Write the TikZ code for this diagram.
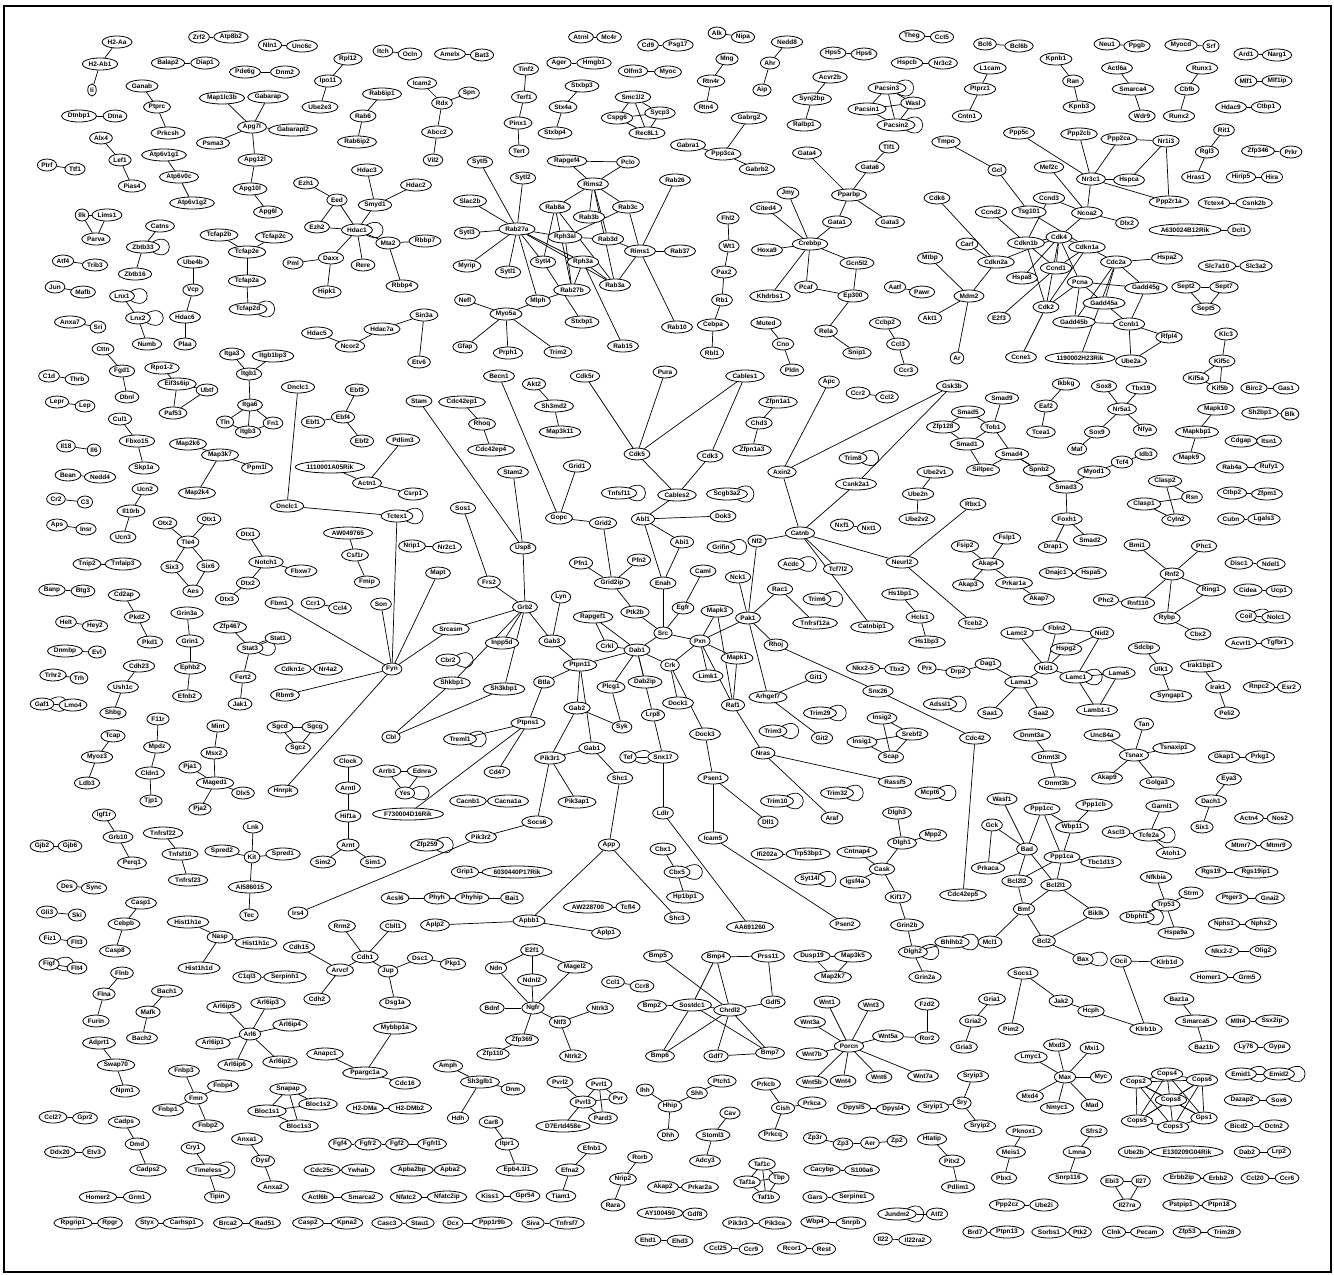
\documentclass[tikz,border=0pt]{standalone}
\usepackage{fontspec}
\setsansfont{Liberation Sans}
\usetikzlibrary{shapes.geometric,backgrounds}
\tikzset{
  gene/.style={ellipse,draw=black,fill=white,line width=0.8pt,inner xsep=1.2pt,inner ysep=0.4pt,minimum height=12pt,font=\sffamily\bfseries\fontsize{6.5}{7}\selectfont},
  link/.style={draw=black,line width=0.7pt}
}
\begin{document}
\begin{tikzpicture}[x=1pt,y=-1pt]
\path[use as bounding box] (0,0) rectangle (1334,1275);
\draw[line width=1.5pt] (4,6) rectangle (1331,1272);

% upper left
\foreach \g/\x/\y in {H2-Aa/117/42,H2-Ab1/100/64,Ii/92/90,Zrf2/199/37,Atp8b2/231/37,Nln1/270/45,Unc6c/302/46,Balap2/168/63,Diap1/205/63,Pde6g/245/72,Dnm2/285/72,Ganab/142/86,Ptprc/157/107,Prkcsh/168/133,Map1lc3b/222/98,Gabarap/268/97,Apg7l/252/127,Gabarapl2/293/130,Psma3/213/143,Apg12l/255/160,Apg10l/250/189,Apg6l/268/212,Dtnbp1/79/116,Dtna/115/116,Alx4/101/138,Lef1/120/160,Pias4/132/186,Ptrf/47/165,Ttf1/75/169,Atp6v1g1/164/155,Atp6v0c/179/177,Atp6v1g2/192/203,Ilk/82/215,Lims1/107/215,Parva/96/239,Catns/160/226,Zbtb33/143/247,Zbtb16/135/274,Atf4/63/261,Trib3/95/265,Jun/55/287,Mafb/83/292,Lnx1/122/296,Lnx2/138/318,Numb/147/344,Anxa7/70/322,Sri/98/327,Ube4b/193/262,Vcp/193/290,Hdac6/185/317,Plaa/185/344,Tcfap2b/219/235,Tcfap2c/274/237,Tcfap2e/247/252,Tcfap2a/247/281,Tcfap2d/248/309,Ezh1/306/183,Ezh2/317/227,Pml/293/263,Daxx/331/258,Hipk1/327/292,Hdac5/317/333,Cttn/103/349,Fgd1/122/371,Dbnl/127/397,C1d/49/376,Thrb/77/379,Lepr/57/402,Lep/85/406,Rpo1-2/162/368,Eif3s6ip/177/384,Ubtf/207/390,Paf53/173/413,Cul1/120/419,Itga3/232/354,Itgb1bp3/273/356,Itgb1/249/374,Itga6/250/405,Tln/225/422,Fn1/273/423,Itgb3/248/432,Ebf1/313/422,Ebf4/343/417,Ebf3/357/390,Ebf2/362/441}
  \node[gene] (\g) at (\x,\y) {\g};
\node[gene] (dnclcA) at (298,387) {Dnclc1};
\node[gene] (dnclcB) at (287,506) {Dnclc1};

% upper middle
\foreach \g/\x/\y in {Itch/383/51,Ocln/410/54,Amelx/450/54,Bat3/482/55,Rpl12/348/59,Ipo11/328/81,Ube2e3/320/107,Rab6ip1/382/94,Rab6/363/116,Rab6ip2/357/142,Icam2/422/83,Rdx/442/103,Spn/469/93,Abcc2/437/132,Vil2/433/160,Atrnl/581/37,Mc4r/609/37,Ager/559/63,Hmgb1/594/63,Tinf2/526/69,Terf1/524/97,Pinx1/518/123,Tert/519/151,Stxbp3/582/86,Stx4a/563/107,Stxbp4/555/133,Cd9/648/45,Psg17/678/45,Olfm3/633/71,Myoc/668/72,Smc1l2/633/97,Sycp3/660/113,Cspg6/617/118,Rec8L1/647/133,Hdac3/367/170,Smyd1/375/205,Hdac2/416/185,Eed/337/200,Hdac1/357/230,Mta2/388/243,Rbbp7/425/241,Rbbp4/402/286,Rere/363/265,Ncor2/350/346,Hdac7a/382/329,Sin3a/424/315,Etv6/419/362,Sytl5/480/162,Sytl2/523/178,Slac2b/470/201,Sytl3/467/233,Rab27a/517/229,Myrip/467/266,Sytl1/508/272,Sytl4/543/262,Mlph/538/301,Myo5a/506/314,Nefl/465/300,Gfap/465/347,Prph1/508/353,Trim2/558/352,Rab8a/555/207,Rims2/593/184,Rapgef4/567/161,Pclo/628/162,Rab3c/628/207,Rab3b/589/217,Rph3al/565/237,Rab3d/608/239,Rims1/640/251,Rab37/680/251,Rab26/675/180,Rph3a/583/262,Rab27b/572/290,Rab3a/615/285,Stxbp1/582/322,Rab15/623/346,Rab10/677/327}
  \node[gene] (\g) at (\x,\y) {\g};

% upper centre right
\foreach \g/\x/\y in {Alk/717/33,Nipa/743/37,Nedd8/787/42,Ahr/770/63,Aip/762/90,Mng/727/59,Rtn4r/711/81,Rtn4/706/107,Hps5/833/53,Hps6/864/54,Acvr2b/830/77,Synj2bp/812/99,Ralbp1/804/125,Theg/912/36,Cct5/942/37,Hspcb/907/63,Nr3c2/943/63,Bcl6/985/44,Bcl6b/1019/46,L1cam/990/68,Ptprz1/980/89,Cntn1/967/116,Pacsin3/887/88,Wasl/913/103,Pacsin1/867/109,Pacsin2/896/125,Gabrg2/749/118,Gabra1/688/145,Ppp3ca/723/154,Gabrb2/757/169,Gata4/807/153,Tlf1/889/147,Gata6/870/167,Pparbp/849/195,Gata1/837/222,Gata3/890/222,Jmy/788/193,Cited4/766/208,Crebbp/810/244,Hoxa9/767/250,Gcn5l2/857/263,Khdrbs1/770/296,Pcaf/806/287,Ep300/853/296,Rela/826/331,Snip1/857/353,Fhl2/728/218,Wt1/729/246,Pax2/724/272,Rb1/722/300,Cebpa/713/325,Rbl1/712/353,Muted/766/323,Cno/783/344,Pldn/792/370,Ccbp2/885/323,Ccl3/898/344,Ccr3/906/370,Aatf/895/287,Pawr/922/292,Tmpo/946/142,Gcl/997/170,Cdk6/937/198,Carf/967/244,Cdkn2a/996/262,Mtbp/930/258,Mdm2/969/296,Akt1/930/318,Ar/957/358,Apc/829/382,Ccr2/858/393,Ccl2/887/397,Gsk3b/952/386,Cables1/745/376,Pura/665/372,Zfpn1a1/778/402,Chd3/759/423,Zfpn1a3/752/450,Smad5/968/412,Zfp128/943/427,Tob1/993/427,Smad9/1002/398}
  \node[gene] (\g) at (\x,\y) {\g};

% upper right
\foreach \g/\x/\y in {Neu1/1107/44,Ppgb/1137/46,Myocd/1181/45,Srf/1211/46,Ard1/1246/54,Narg1/1277/55,Kpnb1/1056/59,Ran/1073/81,Kpnb3/1079/107,Actl6a/1117/68,Smarca4/1133/89,Wdr9/1142/116,Runx1/1202/68,Cbfb/1187/89,Runx2/1179/116,Mlf1/1246/81,Mlf1ip/1277/81,Hdac9/1231/107,Ctbp1/1266/107,Rit1/1224/130,Rgl3/1207/152,Hras1/1196/177,Zfp346/1258/151,Prkr/1291/152,Hirip5/1241/177,Hira/1272/177,Tctex4/1214/203,Csnk2b/1254/203,A630024B12Rik/1185/230,Dcl1/1239/230,Slc7a10/1217/266,Slc3a2/1256/266,Sept2/1186/287,Sept7/1224/287,Sept5/1206/309,Ppp5c/1019/133,Ppp2cb/1079/134,Ppp2ca/1119/139,Nr1i3/1166/141,Mef2c/1049/167,Nr3c1/1091/179,Hspca/1129/180,Ppp2r1a/1169/202,Ccnd3/1049/198,Tsg101/1029/212,Ccnd2/991/212,Ncoa2/1087/213,Dlx2/1127/223,Cdk4/1059/237,Cdkn1b/1026/243,Cdkn1a/1087/247,Ccnd1/1056/268,Hspa8/1022/278,Pcna/1080/282,Cdc2a/1116/262,Hspa2/1167/258,Gadd45g/1146/288,Gadd45a/1104/303,Cdk2/1046/307,Gadd45b/1074/322,Ccnb1/1129/324,E2f3/999/318,Rfpl4/1169/337,Ccne1/1021/357,1190002H23Rik/1080/358,Ube2a/1131/361,Klc3/1226/334,Kif5c/1222/361,Kif5a/1196/378,Kif5b/1220/388,Birc2/1254/388,Gas1/1286/388,Sh2bp1/1260/413,Blk/1290/414,Ikbkg/1066/384,Eaf2/1046/406,Tcea1/1041/432,Sox8/1104/386,Tbx19/1141/388,Nr5a1/1122/409,Sox9/1097/432,Nfya/1145/430,Maf/1077/449,Mapk10/1216/409,Mapkbp1/1197/432,Mapk9/1189/458}
  \node[gene] (\g) at (\x,\y) {\g};

% right middle
\foreach \g/\x/\y in {Cdgap/1241/441,Itsn1/1269/441,Rab4a/1232/467,Rufy1/1269/467,Ctbp2/1232/493,Zfpm1/1267/494,Cubn/1231/519,Lgals3/1264/519,Smad1/967/444,Siltpec/983/470,Smad4/1012/454,Spnb2/1039/470,Smad3/1066/487,Myod1/1094/472,Tcf4/1122/462,Idb3/1146/454,Foxh1/1067/519,Drap1/1053/547,Smad2/1090/540,Clasp2/1165/481,Rsn/1192/497,Clasp1/1144/504,Cyln2/1176/520,Bmi1/1137/545,Phc1/1204/546,Rnf2/1172/574,Ring1/1211/590,Phc2/1106/600,Rnf110/1138/603,Rybp/1167/618,Cbx2/1198/634,Disc1/1239/563,Ndel1/1271/564,Cidea/1248/590,Ucp1/1279/591,Coil/1246/616,Nolc1/1276/617,Acvrl1/1241/643,Tgfbr1/1277/643,Fslp1/1007/538,Fsip2/965/546,Akap4/988/564,Akap3/968/585,Prkar1a/1014/583,Akap7/1039/599,Dnajc1/1056/573,Hspa5/1091/573,Lamc2/1017/633,Fbln2/1057/628,Nid2/1102/633,Hspg2/1066/649,Nid1/1046/668,Lamc1/1076/677,Lama5/1119/673,Lama1/1021/682,Lamb1-1/1097/710,Saa1/990/713,Saa2/1041/713,Sdcbp/1144/648,Ulk1/1161/669,Syngap1/1171/696,Irak1bp1/1201/666,Irak1/1218/687,Peli2/1227/713,Rnpc2/1259/687,Esr2/1289/687,Dnmt3a/1032/735,Dnmt3l/1049/757,Dnmt3b/1057/783,Tan/1144/724,Unc84a/1102/735,Tsnaxip1/1174/748,Tsnax/1134/755,Akap9/1107/778,Golga3/1157/783,Gkap1/1224/757,Prkg1/1260/757,Eya3/1229/779,Dach1/1211/801,Six1/1202/827,Actn4/1249/818,Nos2/1280/818,Mtmr7/1241/845,Mtmr9/1276/845,Garnl1/1162/806,Ascl3/1116/832,Tcfe2a/1149/835,Atoh1/1171/853,Wasf1/1002/799,Ppp1cc/1042/809,Ppp1cb/1094/805,Wbp11/1072/827}
  \node[gene] (\g) at (\x,\y) {\g};

% lower right
\foreach \g/\x/\y in {Gck/992/825,Bad/1027/849,Ppp1ca/1062/857,Tbc1d13/1101/862,Bcl2l2/1017/881,Bcl2l1/1056/885,Prkaca/988/868,Bmf/1024/909,Biklk/1096/913,Mcl1/990/942,Bcl2/1044/941,Bax/1083/959,Ocil/1121/961,Klrb1d/1167/962,Klrb1b/1146/1029,Socs1/1023/973,Jak2/1061/1001,Hcph/1091/1011,Pim2/1011/1029,Cdc42ep5/963/895,Nfkbia/1156/877,Strm/1191/893,Trp53/1166/905,Dbphl1/1137/917,Hspa9a/1176/933,Rgs19/1211/872,Rgs19ip1/1256/872,Ptger3/1232/898,Gnai2/1270/898,Nphs1/1224/924,Nphs2/1261/924,Nkx2-2/1222/951,Olig2/1263/951,Homer1/1209/977,Grm5/1247/977,Baz1a/1179/999,Smarca5/1196/1021,Baz1b/1204/1047,Mllt4/1238/1021,Ssx2ip/1272/1021,Ly76/1246/1047,Gypa/1277/1047,Emid1/1241/1074,Emid2/1279/1074,Dazap2/1242/1100,Sox6/1279/1100,Bicd2/1239/1126,Dctn2/1274/1126,Dab2/1247/1152,Lrp2/1279/1152,Ccl20/1255/1178,Ccr6/1287/1178,Mxd3/1057/1045,Mxi1/1092/1048,Lmyc1/1031/1057,Max/1065/1077,Myc/1101/1077,Mxd4/1030/1096,Nmyc1/1057/1108,Mad/1092/1105,Cops2/1136/1082,Cops4/1167/1074,Cops6/1202/1080,Cops8/1171/1100,Cops5/1137/1121,Cops3/1173/1127,Gps1/1204/1118,Pknox1/1024/1131,Meis1/1011/1152,Pbx1/1004/1178,Sfrs2/1094/1131,Lmna/1077/1152,Snrp116/1068/1178,Ube2b/1134/1152,E130209G04Rik/1187/1152,Ebi3/1112/1181,Il27/1141/1181,Il27ra/1127/1205,Erbb2ip/1182/1178,Erbb2/1218/1178,Pstpip1/1181/1205,Ptpn18/1219/1205,Ppp2cz/1007/1205,Ube2i/1044/1205,Brd7/975/1232,Ptpn13/1007/1232,Sorbs1/1049/1232,Ptk2/1080/1232,Clnk/1114/1232,Pecam/1147/1232,Zfp53/1187/1232,Trim28/1224/1232}
  \node[gene] (\g) at (\x,\y) {\g};

% left middle
\foreach \g/\x/\y in {Fbxo15/137/441,Skp1a/144/468,Il18/66/446,Il6/94/450,Bean/68/475,Nedd4/100/477,Cr2/56/499,C3/85/502,Aps/57/525,Insr/86/529,Ucn2/145/489,Il10rb/131/511,Ucn3/123/537,Map2k6/188/444,Map3k7/220/455,Ppm1l/257/468,Map2k4/197/493,1110001A05Rik/330/467,Otx2/165/523,Otx1/209/519,Tle4/188/542,Six3/172/567,Six6/208/566,Aes/193/591,Dtx1/248/534,Notch1/266/562,Fbxw7/301/571,Dtx2/248/583,Dtx3/227/599,Tnip2/87/564,Tnfaip3/123/564,Banp/52/590,Btg3/83/591,Cd2ap/124/595,Pkd2/137/617,Pkd1/150/642,Helt/66/622,Hey2/95/626,Dnmbp/65/651,Evl/97/652,Trhr2/53/675,Trh/79/678,Gaf1/42/704,Lmo4/73/705,Cdh23/139/666,Ush1c/123/687,Shbg/113/713,Grin3a/187/613,Grin1/190/641,Ephb2/190/668,Efnb2/187/696,Zfp467/230/627,Stat1/278/638,Stat3/250/648,Fert2/243/677,Jak1/240/704,Fbm1/279/603,Ccr1/313/603,Ccl4/340/608,Cdkn1c/293/669,Nr4a2/328/669,Rbm9/285/695,Sgcd/280/727,Sgcg/315/727,Sgcz/298/748,Hnrpk/283/791,Mint/218/726,Msx2/214/753,Pja1/190/767,Maged1/215/783,Dlx5/243/793,Pja2/200/809,F11r/158/719,Mpdz/157/747,Cldn1/150/773,Tjp1/151/801,Tcap/113/736,Myoz3/97/757,Ldb3/87/783,Igf1r/104/815,Grb10/118/837,Perq1/132/863,Gjb2/42/846,Gjb6/70/846,Tnfrsf22/163/833,Tnfsf10/180/854,Tnfrsf23/188/880,Lnk/253/827,Kit/252/857,Spred2/222/851,Spred1/283/854,AI586015/250/887,Tec/249/915}
  \node[gene] (\g) at (\x,\y) {\g};

% centre
\foreach \g/\x/\y in {Rhoq/482/424,Cdc42ep1/462/402,Cdc42ep4/491/450,Akt2/534/384,Sh3md2/554/406,Map3k11/560/432,Becn1/499/376,Stam/419/401,Cdk5r/585/376,Cdk5/637/454,Stam2/513/472,Grid1/577/466,Gopc/559/518,Grid2/603/523,Usp8/523/548,Sos1/463/508,Frs2/489/582,Grb2/525/607,Lyn/561/597,Gab3/552/641,Srcasm/451/629,Inpp5d/502/643,Cbr2/448/660,Shkbp1/452/683,Sh3kbp1/504/689,Cbl/391/737,Nrip1/412/546,Nr2c1/447/547,AW049765/348/533,Csf1r/355/555,Fmip/367/582,Mapt/438/573,Son/381/604,Fyn/392/669,Tctex1/397/516,Actn1/367/483,Pdlim3/403/440,Csrp1/413/494,Ptpn11/580/665,Btla/544/682,Ptpns1/528/723,Treml1/460/739,Cd47/497/772,Gab2/577/708,Gab1/592/748,Pik3r1/550/758,Pik3ap1/577/802,Syk/622/727,Plcg1/611/687,Dab2ip/645/682,Dab1/637/650,Rapgef1/593/617,Crkl/607/646,Src/663/633,Ptk2b/635/612,Grid2ip/612/583,Pfn1/581/563,Pfn2/639/560,Abl1/643/519,Enah/663/583,Lrp8/653/715,Shc1/620/778,Tef/628/757,Snx17/663/757,Ldlr/663/813,App/609/845,Socs6/537/822,Pik3r2/481/837,Zfp259/427/845,Clock/348/761,Arntl/348/788,Hif1a/348/816,Arnt/348/845,Sim2/323/862,Sim1/373/862,Arrb1/387/771,Ednra/422/771,Yes/405/793,F730004D16Rik/408/814,Cacnb1/468/801,Cacna1a/508/801,Tnfsf11/619/493}
  \node[gene] (\g) at (\x,\y) {\g};

% centre right
\foreach \g/\x/\y in {Cdk3/710/456,Cables2/677/495,Scgb3a2/727/494,Dok3/723/516,Abi1/682/542,Grifin/721/547,Nf2/757/541,Catnb/800/533,Axin2/782/472,Csnk2a1/856/484,Trim8/853/458,Ube2v1/935/472,Ube2n/918/494,Ube2v2/917/519,Nxf1/842/525,Nxt1/869/528,Rbx1/973/504,Neurl2/902/562,Tceb2/973/623,Acdc/791/564,Tcf7l2/838/569,Caml/703/571,Nck1/738/577,Egfr/683/608,Mapk3/717/611,Pak1/748/618,Rac1/780/589,Trim6/817/599,Tnfrsf12a/815/623,Catnbip1/872/627,Hs1bp1/900/594,Hcls1/920/617,Hs1bp3/927/642,Pxn/700/641,Mapk1/737/658,Crk/670/665,Limk1/708/676,Rhoj/776/645,Raf1/733/705,Dock1/678/703,Arhgef7/768/697,Git1/816/677,Trim29/820/713,Trim3/773/731,Git2/822/738,Dock3/705/734,Nras/763/753,Rassf5/895/782,Psen1/713/778,Trim10/777/801,Trim32/837/793,Araf/832/818,Dll1/768/822,Icam5/713/838,Nkx2-5/863/668,Tbx2/897/669,Prx/927/668,Drp2/958/672,Dag1/988/664,Snx26/878/691,Adssl1/940/704,Cdc42/975/738,Insig2/882/718,Srebf2/912/734,Insig1/862/742,Scap/891/757,Mcpt6/930/793,Dlgh3/897/813,Mpp2/933/835,Dlgh1/902/843}
  \node[gene] (\g) at (\x,\y) {\g};

% lower left
\foreach \g/\x/\y in {Des/67/886,Sync/94/888,Gli3/47/912,Ski/77/915,Casp1/141/903,Cebpb/124/924,Casp8/115/951,Fiz1/50/938,Flt3/77/942,Figf/49/964,Flt4/77/968,Flnb/122/973,Flna/104/994,Furin/96/1021,Bach1/167/991,Mafk/148/1012,Bach2/142/1038,Adprt1/99/1043,Swap70/116/1065,Npm1/125/1091,Ccl27/53/1117,Gpr2/85/1118,Ddx20/60/1152,Etv3/94/1152,Cadps/124/1122,Dmd/137/1144,Cadps2/148/1170,Homer2/98/1197,Grm1/137/1197,Rpgrip1/73/1223,Rpgr/110/1223,Styx/147/1223,Carhsp1/183/1223,Brca2/228/1223,Rad51/265/1223,Casp2/308/1223,Kpna2/347/1223,Hist1h1e/188/922,Nasp/220/937,Hist1h1c/256/943,Hist1h1d/199/968,C1ql3/247/977,Serpinh1/285/977,Cdh15/299/947,Arvcf/340/970,Cdh2/317/999,Cdh1/365/957,Rrm2/342/926,Cbll1/393/926,Jup/388/971,Dsc1/420/958,Pkp1/453/964,Dsg1a/395/1003,Arl6ip5/224/1007,Arl6ip3/268/1003,Arl6ip4/290/1025,Arl6/250/1034,Arl6ip1/213/1043,Arl6ip6/235/1065,Arl6ip2/280/1062,Fnbp3/184/1071,Fnbp4/223/1086,Fmn/196/1098,Fnbp1/168/1110,Fnbp2/208/1126,Snapap/288/1089,Bloc1s2/318/1104,Bloc1s1/267/1111,Bloc1s3/299/1126,Anxa1/247/1139,Dysf/263/1161,Anxa2/273/1187,Cry1/193/1148,Timeless/208/1170,Tipin/217/1197,Irs4/298/913}
  \node[gene] (\g) at (\x,\y) {\g};

% lower centre
\foreach \g/\x/\y in {Anapc1/325/1054,Mybbp1a/395/1028,Ppargc1a/365/1073,Cdc16/405/1083,H2-DMa/365/1108,H2-DMb2/410/1108,Fgf4/340/1144,Fgfr2/368/1144,Fgf2/397/1144,Fgfrl1/432/1144,Cdc25c/322/1170,Ywhab/358/1170,Actl6b/318/1197,Smarca2/362/1197,Apba2bp/412/1170,Apba2/450/1170,Nfatc2/406/1197,Nfatc2ip/447/1197,Casc3/387/1223,Stau1/420/1223,Dcx/453/1223,Ppp1r9b/492/1223,Kiss1/490/1196,Gpr54/525/1196,Siva/533/1223,Tnfrsf7/567/1223,Grip1/465/872,6030440P17Rik/517/872,Acsl6/395/898,Phyh/437/898,Phyhip/472/898,Bai1/512/898,AW228700/588/907,Tcfl4/628/907,Aplp2/435/925,Apbb1/529/921,Aplp1/606/933,E2f1/532/950,Ndn/496/968,Magel2/575/967,Ndnl2/532/980,Bdnf/492/1008,Ngfr/533/1008,Ntf3/560/1022,Ntrk3/600/1008,Ntrk2/573/1056,Zfp369/522/1040,Zfp110/493/1054,Ccl1/613/982,Ccr8/642/986,Amph/448/1066,Sh3glb1/480/1082,Dnm/513/1089,Hdh/458/1118,Car8/491/1122,Itpr1/507/1144,Pvrl2/560/1082,Pvrl1/599/1084,Pvr/618/1098,Pvrl3/583/1102,Pard3/603/1118,D7Ertd458e/563/1126,Efnb1/592/1148,Efna2/570/1170,Tiam1/561/1196,Rorb/640/1157,Nrip2/623/1179,Rara/613/1205,Bmp5/658/956,Bmp2/652/1006,Bmp6/660/1056}
  \node[gene] (\g) at (\x,\y) {\g};
\node[gene] (epb) at (517,1170) {Epb4.1l1};

% lower centre right
\foreach \g/\x/\y in {Ifi202a/767/854,Trp53bp1/808/854,Cntnap4/857/852,Cask/882/869,Igsf4a/855/882,Syt14l/810/879,Kif17/898/897,Grin2b/907/925,Dlgh2/913/952,Bhlhb2/952/942,Grin2a/925/977,Cbx1/663/849,Cbx5/677/872,Hp1bp1/685/897,Shc3/677/918,AA691260/750/927,Psen2/845/924,Bmp4/716/957,Prss11/768/956,Sostdc1/692/1005,Chrdl2/730/1010,Gdf5/773/1002,Gdf7/716/1056,Bmp7/770/1053,Dusp19/812/956,Map3k5/853/956,Map2k7/833/977,Wnt1/827/1002,Wnt3/871/1005,Wnt3a/810/1022,Porcn/849/1046,Wnt5a/888/1036,Ror2/927/1038,Fzd2/927/1004,Wnt7b/812/1054,Wnt5b/812/1082,Wnt4/843/1081,Wnt6/879/1077,Wnt7a/923/1076,Gria1/992/999,Gria2/973/1021,Gria3/964/1047,Sryip3/973/1076,Sry/962/1103,Sryip1/933/1107,Sryip2/980/1126,Ptch1/722/1081,Shh/697/1093,Hhip/670/1106,Ihh/645/1090,Dhh/668/1135,Cav/730/1113,Stoml3/713/1135,Adcy3/705/1161,Prkcb/766/1084,Cish/783/1108,Prkca/812/1103,Prkcq/773/1135,Dpysl5/854/1108,Dpysl4/893/1109,Zp3r/815/1138,Zp3/843/1144,Aer/870/1143,Zp2/897/1141,Htatip/932/1139,Pitx2/952/1161,Pdlim1/958/1187,Taf1c/762/1164,Tbp/779/1178,Taf1a/747/1182,Taf1b/766/1197,Akap2/663/1187,Prkar2a/700/1187,AY100450/660/1213,Gdf8/695/1214,Ehd1/648/1240,Ehd3/680/1241,Cacybp/822/1170,S100a6/862/1170,Gars/815/1197,Serpine1/853/1197,Pik3r3/738/1223,Pik3ca/775/1223,Wbp4/815/1222,Snrpb/851/1223,Ccl25/718/1248,Ccr9/751/1249,Rcor1/792/1248,Rest/824/1249,Jundm2/897/1214,Atf2/937/1214,Il22/883/1239,Il22ra2/915/1240}
  \node[gene] (\g) at (\x,\y) {\g};

\begin{scope}[on background layer]
\foreach \a/\b in {H2-Aa/H2-Ab1,H2-Ab1/Ii,Zrf2/Atp8b2,Nln1/Unc6c,Balap2/Diap1,Pde6g/Dnm2,Ganab/Ptprc,Ptprc/Prkcsh,Map1lc3b/Apg7l,Gabarap/Apg7l,Apg7l/Gabarapl2,Apg7l/Psma3,Apg7l/Apg12l,Apg12l/Apg10l,Apg10l/Apg6l,Dtnbp1/Dtna,Alx4/Lef1,Lef1/Pias4,Ptrf/Ttf1,Atp6v1g1/Atp6v0c,Atp6v0c/Atp6v1g2,Ilk/Lims1,Ilk/Parva,Lims1/Parva,Catns/Zbtb33,Zbtb33/Zbtb16,Atf4/Trib3,Jun/Mafb,Lnx1/Lnx2,Lnx2/Numb,Anxa7/Sri,Ube4b/Vcp,Vcp/Hdac6,Hdac6/Plaa,Tcfap2b/Tcfap2e,Tcfap2c/Tcfap2e,Tcfap2e/Tcfap2a,Tcfap2a/Tcfap2d,Cttn/Fgd1,Fgd1/Dbnl,C1d/Thrb,Lepr/Lep,Rpo1-2/Eif3s6ip,Eif3s6ip/Ubtf,Eif3s6ip/Paf53,Ubtf/Paf53,Itga3/Itgb1,Itgb1bp3/Itgb1,Itgb1/Itga6,Itga6/Tln,Itga6/Fn1,Itga6/Itgb3,Tln/Itgb3,Fn1/Itgb3,Ebf1/Ebf4,Ebf4/Ebf3,Ebf4/Ebf2}
  \draw[link] (\a) -- (\b);
\foreach \a/\b in {Itch/Ocln,Amelx/Bat3,Rpl12/Ipo11,Ipo11/Ube2e3,Rab6ip1/Rab6,Rab6/Rab6ip2,Icam2/Rdx,Rdx/Spn,Rdx/Abcc2,Abcc2/Vil2,Atrnl/Mc4r,Ager/Hmgb1,Tinf2/Terf1,Terf1/Pinx1,Pinx1/Tert,Stxbp3/Stx4a,Stx4a/Stxbp4,Cd9/Psg17,Olfm3/Myoc,Smc1l2/Cspg6,Smc1l2/Sycp3,Smc1l2/Rec8L1,Cspg6/Sycp3,Cspg6/Rec8L1,Sycp3/Rec8L1,Hdac3/Smyd1,Smyd1/Hdac2,Smyd1/Hdac1,Ezh1/Eed,Eed/Ezh2,Eed/Hdac1,Ezh2/Hdac1,Pml/Daxx,Daxx/Hdac1,Daxx/Hipk1,Hdac1/Mta2,Hdac1/Rere,Mta2/Rbbp7,Mta2/Rbbp4,Hdac5/Ncor2,Ncor2/Hdac7a,Hdac7a/Sin3a,Sin3a/Etv6,Sytl5/Rab27a,Sytl2/Rab27a,Slac2b/Rab27a,Sytl3/Rab27a,Myrip/Rab27a,Sytl1/Rab27a,Rab27a/Sytl4,Rab27a/Mlph,Rab27a/Rph3al,Rab27a/Rph3a,Rab27a/Rab3a,Rapgef4/Pclo,Rapgef4/Rims2,Pclo/Rims2,Rims2/Rab8a,Rims2/Rab3b,Rims2/Rab3c,Rims2/Rab3a,Rims2/Rab3d,Rab8a/Sytl4,Rab8a/Rab27b,Rab8a/Rab3a,Rab3c/Rph3al,Rab3c/Rims1,Rph3al/Rab3d,Rph3al/Rab27b,Rab3d/Rims1,Rims1/Rab26,Rims1/Rab37,Rims1/Rab3a,Rims1/Rab10,Rph3a/Rab27b,Rph3a/Rab3a,Rph3a/Rab15,Sytl4/Stxbp1,Mlph/Myo5a,Mlph/Rab27b,Nefl/Myo5a,Myo5a/Gfap,Myo5a/Prph1,Myo5a/Trim2}
  \draw[link] (\a) -- (\b);
\foreach \a/\b in {Alk/Nipa,Nedd8/Ahr,Ahr/Aip,Mng/Rtn4r,Rtn4r/Rtn4,Hps5/Hps6,Acvr2b/Synj2bp,Synj2bp/Ralbp1,Theg/Cct5,Hspcb/Nr3c2,Bcl6/Bcl6b,L1cam/Ptprz1,Ptprz1/Cntn1,Pacsin3/Wasl,Pacsin3/Pacsin1,Pacsin3/Pacsin2,Pacsin1/Wasl,Pacsin1/Pacsin2,Pacsin2/Wasl,Gabrg2/Ppp3ca,Gabra1/Ppp3ca,Ppp3ca/Gabrb2,Gata4/Pparbp,Tlf1/Gata6,Gata6/Pparbp,Pparbp/Gata1,Pparbp/Gata3,Jmy/Crebbp,Cited4/Crebbp,Hoxa9/Crebbp,Crebbp/Gata1,Crebbp/Gcn5l2,Crebbp/Khdrbs1,Crebbp/Pcaf,Pcaf/Ep300,Gcn5l2/Ep300,Ep300/Rela,Rela/Snip1,Fhl2/Wt1,Wt1/Pax2,Pax2/Rb1,Rb1/Cebpa,Cebpa/Rbl1,Muted/Cno,Cno/Pldn,Ccbp2/Ccl3,Ccl3/Ccr3,Aatf/Pawr,Tmpo/Gcl,Cdk6/Cdkn2a,Carf/Cdkn2a,Mtbp/Mdm2,Mdm2/Cdkn2a,Mdm2/Akt1,Mdm2/Ar,Ccr2/Ccl2,Cables1/Cdk5,Cables1/Cdk3,Pura/Cdk5,Zfpn1a1/Chd3,Chd3/Zfpn1a3,Smad5/Zfp128,Smad5/Tob1,Smad9/Tob1,Zfp128/Smad1,Tob1/Smad1,Tob1/Smad4,Smad1/Siltpec,Smad4/Siltpec,Smad4/Spnb2,Smad4/Smad3,Spnb2/Smad3,Smad3/Myod1,Myod1/Tcf4,Tcf4/Idb3,Smad3/Foxh1,Foxh1/Drap1,Foxh1/Smad2,Apc/Axin2,Gsk3b/Axin2,Gsk3b/Csnk2a1}
  \draw[link] (\a) -- (\b);
\foreach \a/\b in {Neu1/Ppgb,Myocd/Srf,Ard1/Narg1,Kpnb1/Ran,Ran/Kpnb3,Actl6a/Smarca4,Smarca4/Wdr9,Runx1/Cbfb,Cbfb/Runx2,Mlf1/Mlf1ip,Hdac9/Ctbp1,Rit1/Rgl3,Rgl3/Hras1,Zfp346/Prkr,Hirip5/Hira,Tctex4/Csnk2b,A630024B12Rik/Dcl1,Slc7a10/Slc3a2,Sept2/Sept7,Sept2/Sept5,Sept7/Sept5,Ppp5c/Nr3c1,Ppp2cb/Nr3c1,Ppp2ca/Nr3c1,Ppp2ca/Nr1i3,Nr1i3/Hspca,Nr1i3/Ppp2r1a,Nr3c1/Hspca,Nr3c1/Ppp2r1a,Nr3c1/Ncoa2,Mef2c/Ncoa2,Gcl/Tsg101,Ccnd3/Ncoa2,Ccnd3/Cdkn1b,Tsg101/Cdkn1a,Ncoa2/Dlx2,Ncoa2/Cdk4,Ccnd2/Cdkn1b,Cdkn1b/Cdk4,Cdkn1b/Cdk2,Cdkn1b/Ccnd1,Cdk4/Cdkn1a,Cdk4/Ccnd1,Cdk4/Hspa8,Cdk4/Pcna,Cdk4/Cdkn2a,Cdk4/Cdk2,Cdkn1a/Cdk2,Cdkn1a/Ccnd1,Cdkn1a/Cdc2a,Cdc2a/Hspa2,Cdc2a/Gadd45g,Cdc2a/Gadd45a,Cdc2a/Gadd45b,Cdc2a/1190002H23Rik,Pcna/Gadd45g,Pcna/Cdk2,Pcna/Gadd45b,Pcna/Gadd45a,Gadd45g/Ccnb1,Gadd45a/Ccnb1,Gadd45b/Ccnb1,Cdk2/Ccne1,Ccnd1/E2f3,Ccnb1/Rfpl4,Ccnb1/Ube2a,Ube2a/Rfpl4,Klc3/Kif5c,Kif5c/Kif5a,Kif5c/Kif5b,Kif5a/Kif5b,Birc2/Gas1,Sh2bp1/Blk,Ikbkg/Eaf2,Eaf2/Tcea1,Sox8/Nr5a1,Tbx19/Nr5a1,Nr5a1/Sox9,Nr5a1/Nfya,Sox9/Maf,Mapk10/Mapkbp1,Mapkbp1/Mapk9}
  \draw[link] (\a) -- (\b);
\foreach \a/\b in {Cdgap/Itsn1,Rab4a/Rufy1,Ctbp2/Zfpm1,Cubn/Lgals3,Clasp2/Cyln2,Clasp2/Rsn,Clasp1/Rsn,Clasp1/Cyln2,Bmi1/Rnf2,Phc1/Rnf2,Rnf2/Ring1,Rnf2/Rnf110,Rnf2/Rybp,Phc2/Rnf110,Ring1/Rybp,Rybp/Cbx2,Disc1/Ndel1,Cidea/Ucp1,Coil/Nolc1,Acvrl1/Tgfbr1,Fslp1/Akap4,Fsip2/Akap4,Akap4/Akap3,Akap4/Prkar1a,Prkar1a/Akap7,Dnajc1/Hspa5,Lamc2/Nid1,Lamc2/Fbln2,Fbln2/Nid2,Fbln2/Nid1,Hspg2/Nid2,Hspg2/Nid1,Nid2/Lamc1,Nid1/Lamc1,Nid1/Lama1,Lamc1/Lama5,Lamc1/Lamb1-1,Lama5/Lamb1-1,Lama1/Saa1,Lama1/Saa2,Dag1/Lama1,Sdcbp/Ulk1,Ulk1/Syngap1,Irak1bp1/Irak1,Irak1/Peli2,Rnpc2/Esr2,Dnmt3a/Dnmt3l,Dnmt3l/Dnmt3b,Tan/Tsnax,Unc84a/Tsnax,Tsnax/Tsnaxip1,Tsnax/Akap9,Tsnax/Golga3,Gkap1/Prkg1,Eya3/Dach1,Dach1/Six1,Actn4/Nos2,Mtmr7/Mtmr9,Garnl1/Tcfe2a,Ascl3/Tcfe2a,Tcfe2a/Atoh1}
  \draw[link] (\a) -- (\b);
\foreach \a/\b in {Wasf1/Bad,Ppp1cc/Bad,Ppp1cc/Ppp1ca,Ppp1cc/Wbp11,Ppp1cb/Wbp11,Wbp11/Ppp1ca,Gck/Bad,Gck/Prkaca,Prkaca/Bad,Bad/Bcl2l2,Bad/Bcl2l1,Ppp1ca/Bcl2l2,Ppp1ca/Bcl2l1,Ppp1ca/Tbc1d13,Bcl2l2/Bmf,Bcl2l1/Bmf,Bcl2l1/Biklk,Bmf/Mcl1,Bmf/Bcl2,Biklk/Bcl2,Bcl2/Bax,Ocil/Klrb1d,Ocil/Klrb1b,Socs1/Jak2,Socs1/Pim2,Jak2/Hcph,Hcph/Klrb1b,Cdc42/Cdc42ep5,Nfkbia/Trp53,Strm/Trp53,Trp53/Dbphl1,Trp53/Hspa9a,Rgs19/Rgs19ip1,Ptger3/Gnai2,Nphs1/Nphs2,Nkx2-2/Olig2,Homer1/Grm5,Baz1a/Smarca5,Smarca5/Baz1b,Mllt4/Ssx2ip,Ly76/Gypa,Emid1/Emid2,Dazap2/Sox6,Bicd2/Dctn2,Dab2/Lrp2,Ccl20/Ccr6,Mxd3/Max,Mxi1/Max,Lmyc1/Max,Myc/Max,Mxd4/Max,Nmyc1/Max,Mad/Max,Cops2/Cops4,Cops2/Cops6,Cops2/Cops5,Cops2/Cops3,Cops2/Gps1,Cops4/Cops6,Cops4/Cops5,Cops4/Cops3,Cops4/Gps1,Cops6/Cops5,Cops6/Cops3,Cops6/Gps1,Cops5/Cops3,Cops3/Gps1,Cops8/Cops2,Cops8/Cops6,Cops8/Cops5,Cops8/Gps1,Pknox1/Meis1,Meis1/Pbx1,Sfrs2/Lmna,Lmna/Snrp116,Ube2b/E130209G04Rik,Ebi3/Il27,Ebi3/Il27ra,Il27/Il27ra,Erbb2ip/Erbb2,Pstpip1/Ptpn18,Ppp2cz/Ube2i,Brd7/Ptpn13,Sorbs1/Ptk2,Clnk/Pecam,Zfp53/Trim28}
  \draw[link] (\a) -- (\b);
\foreach \a/\b in {Cul1/Fbxo15,Fbxo15/Skp1a,Il18/Il6,Bean/Nedd4,Cr2/C3,Aps/Insr,Ucn2/Il10rb,Il10rb/Ucn3,Map2k6/Map3k7,Map3k7/Ppm1l,Map3k7/Map2k4,1110001A05Rik/Actn1,Pdlim3/Actn1,Actn1/Csrp1,dnclcA/dnclcB,dnclcB/Tctex1,Tctex1/Fyn,Otx2/Tle4,Otx1/Tle4,Tle4/Six3,Tle4/Six6,Six3/Aes,Six6/Aes,Dtx1/Notch1,Notch1/Fbxw7,Notch1/Dtx2,Dtx2/Dtx3,Tnip2/Tnfaip3,Banp/Btg3,Cd2ap/Pkd2,Pkd2/Pkd1,Helt/Hey2,Dnmbp/Evl,Trhr2/Trh,Gaf1/Lmo4,Cdh23/Ush1c,Ush1c/Shbg,Grin3a/Grin1,Grin1/Ephb2,Ephb2/Efnb2,Zfp467/Stat3,Stat1/Stat3,Stat3/Fert2,Fert2/Jak1,Fbm1/Fyn,Ccr1/Ccl4,Cdkn1c/Nr4a2,Rbm9/Fyn,Sgcd/Sgcg,Sgcd/Sgcz,Sgcg/Sgcz,Hnrpk/Fyn,Mint/Msx2,Msx2/Maged1,Pja1/Maged1,Maged1/Dlx5,Maged1/Pja2,F11r/Mpdz,Mpdz/Cldn1,Cldn1/Tjp1,Tcap/Myoz3,Myoz3/Ldb3,Igf1r/Grb10,Grb10/Perq1,Gjb2/Gjb6,Tnfrsf22/Tnfsf10,Tnfsf10/Tnfrsf23,Lnk/Kit,Spred2/Kit,Kit/Spred1,Kit/AI586015,AI586015/Tec}
  \draw[link] (\a) -- (\b);
\foreach \a/\b in {Cdc42ep1/Rhoq,Rhoq/Cdc42ep4,Akt2/Sh3md2,Sh3md2/Map3k11,Becn1/Gopc,Stam/Usp8,Cdk5r/Cdk5,Cdk5/Cables2,Stam2/Usp8,Grid1/Gopc,Gopc/Grid2,Grid2/Grid2ip,Usp8/Grb2,Sos1/Frs2,Frs2/Grb2,Grb2/Srcasm,Grb2/Inpp5d,Grb2/Shkbp1,Grb2/Sh3kbp1,Grb2/Gab3,Lyn/Gab3,Gab3/Ptpn11,Srcasm/Fyn,Son/Fyn,Mapt/Fyn,Shkbp1/Cbl,Sh3kbp1/Cbl,Nrip1/Nr2c1,AW049765/Csf1r,Csf1r/Fmip,Ptpn11/Btla,Ptpn11/Gab2,Ptpn11/Gab1,Ptpn11/Dab1,Btla/Ptpns1,Ptpns1/Treml1,Ptpns1/Cd47,Ptpns1/F730004D16Rik,Gab2/Syk,Gab2/Pik3r1,Gab1/Pik3r1,Gab1/Shc1,Plcg1/Syk,Pik3r1/Pik3ap1,Pik3r1/Socs6,Socs6/Pik3r2,Pik3r2/Irs4,Shc1/App,Dab1/Rapgef1,Dab1/Crkl,Rapgef1/Crkl,Dab1/Src,Dab1/Plcg1,Dab1/Dab2ip,Dab1/Lrp8,Dab1/Crk,Pfn1/Grid2ip,Pfn2/Grid2ip,Grid2ip/Ptk2b,Ptk2b/Src,Abl1/Enah,Abl1/Cables2,Abl1/Dok3,Abl1/Abi1,Abi1/Enah,Enah/Src,Lrp8/Snx17,Tef/Snx17,Snx17/Ldlr,Clock/Arntl,Arntl/Hif1a,Hif1a/Arnt,Arnt/Sim2,Arnt/Sim1,Arrb1/Ednra,Arrb1/Yes,Ednra/Yes,Cacnb1/Cacna1a}
  \draw[link] (\a) -- (\b);
\foreach \a/\b in {Cdk3/Cables2,Nf2/Pak1,Nf2/Catnb,Catnb/Axin2,Catnb/Csnk2a1,Catnb/Neurl2,Catnb/Tcf7l2,Catnb/Catnbip1,Ube2v1/Ube2n,Ube2n/Ube2v2,Nxf1/Nxt1,Neurl2/Rbx1,Neurl2/Tceb2,Caml/Egfr,Egfr/Src,Src/Pxn,Nck1/Pak1,Mapk3/Pxn,Mapk3/Raf1,Pak1/Pxn,Pak1/Rac1,Pak1/Rhoj,Pak1/Arhgef7,Rac1/Tnfrsf12a,Hs1bp1/Hcls1,Hcls1/Hs1bp3,Pxn/Mapk1,Pxn/Limk1,Pxn/Raf1,Pxn/Crk,Mapk1/Raf1,Crk/Dock1,Crk/Dock3,Raf1/Nras,Arhgef7/Git1,Arhgef7/Git2,Dock3/Psen1,Nras/Rassf5,Nras/Araf,Psen1/Dll1,Psen1/Icam5,Icam5/Psen2,Ldlr/AA691260,Nkx2-5/Tbx2,Prx/Drp2,Drp2/Dag1,Rhoj/Snx26,Snx26/Cdc42,Insig2/Srebf2,Insig2/Scap,Insig1/Srebf2,Insig1/Scap,Srebf2/Scap,Dlgh3/Dlgh1,Dlgh1/Mpp2,Dlgh1/Cask}
  \draw[link] (\a) -- (\b);
\foreach \a/\b in {Des/Sync,Gli3/Ski,Casp1/Cebpb,Cebpb/Casp8,Fiz1/Flt3,Figf/Flt4,Flnb/Flna,Flna/Furin,Bach1/Mafk,Mafk/Bach2,Adprt1/Swap70,Swap70/Npm1,Ccl27/Gpr2,Ddx20/Etv3,Cadps/Dmd,Dmd/Cadps2,Homer2/Grm1,Rpgrip1/Rpgr,Styx/Carhsp1,Brca2/Rad51,Casp2/Kpna2,Hist1h1e/Nasp,Nasp/Hist1h1c,Nasp/Hist1h1d,C1ql3/Serpinh1,Cdh15/Arvcf,Arvcf/Cdh2,Arvcf/Cdh1,Rrm2/Cdh1,Cbll1/Cdh1,Cdh1/Jup,Jup/Dsc1,Dsc1/Pkp1,Jup/Dsg1a,Arl6ip5/Arl6,Arl6ip3/Arl6,Arl6ip4/Arl6,Arl6ip1/Arl6,Arl6ip6/Arl6,Arl6ip2/Arl6,Fnbp3/Fmn,Fnbp4/Fmn,Fnbp1/Fmn,Fnbp2/Fmn,Snapap/Bloc1s1,Snapap/Bloc1s2,Snapap/Bloc1s3,Bloc1s1/Bloc1s2,Bloc1s1/Bloc1s3,Anxa1/Dysf,Dysf/Anxa2,Cry1/Timeless,Timeless/Tipin}
  \draw[link] (\a) -- (\b);
\foreach \a/\b in {Anapc1/Ppargc1a,Mybbp1a/Ppargc1a,Ppargc1a/Cdc16,H2-DMa/H2-DMb2,Fgf4/Fgfr2,Fgfr2/Fgf2,Fgf2/Fgfrl1,Cdc25c/Ywhab,Actl6b/Smarca2,Apba2bp/Apba2,Nfatc2/Nfatc2ip,Casc3/Stau1,Dcx/Ppp1r9b,Kiss1/Gpr54,Siva/Tnfrsf7,Grip1/6030440P17Rik,Acsl6/Phyh,Phyh/Phyhip,Phyhip/Bai1,AW228700/Tcfl4,Aplp2/Apbb1,Apbb1/Aplp1,Apbb1/App,App/Shc3,E2f1/Ndn,E2f1/Magel2,E2f1/Ndnl2,Ndn/Ngfr,Ndnl2/Ngfr,Magel2/Ngfr,Bdnf/Ngfr,Ngfr/Ntf3,Ntf3/Ntrk3,Ntf3/Ntrk2,Ngfr/Zfp369,Zfp369/Zfp110,Ccl1/Ccr8,Amph/Sh3glb1,Sh3glb1/Dnm,Sh3glb1/Hdh,Car8/Itpr1,Itpr1/epb,Pvrl2/Pvrl3,Pvrl1/Pvrl3,Pvrl1/Pvr,Pvrl1/Pard3,Pvrl3/Pard3,Pvrl3/D7Ertd458e,Pvrl3/Pvr,Efnb1/Efna2,Efna2/Tiam1,Rorb/Nrip2,Nrip2/Rara}
  \draw[link] (\a) -- (\b);
\foreach \a/\b in {Ifi202a/Trp53bp1,Cntnap4/Cask,Cask/Igsf4a,Cask/Kif17,Kif17/Grin2b,Grin2b/Dlgh2,Dlgh2/Bhlhb2,Dlgh2/Grin2a,Cbx1/Cbx5,Cbx5/Hp1bp1,Bmp5/Chrdl2,Bmp4/Prss11,Bmp4/Sostdc1,Bmp4/Chrdl2,Prss11/Gdf5,Chrdl2/Gdf5,Bmp2/Sostdc1,Sostdc1/Chrdl2,Sostdc1/Bmp6,Sostdc1/Bmp7,Chrdl2/Bmp6,Chrdl2/Gdf7,Chrdl2/Bmp7,Gdf7/Bmp7,Dusp19/Map3k5,Dusp19/Map2k7,Map3k5/Map2k7,Wnt1/Porcn,Wnt3/Porcn,Wnt3a/Porcn,Wnt5a/Porcn,Wnt7b/Porcn,Wnt5b/Porcn,Wnt4/Porcn,Wnt6/Porcn,Wnt7a/Porcn,Wnt5a/Ror2,Fzd2/Ror2,Gria1/Gria2,Gria2/Gria3,Sryip3/Sry,Sryip1/Sry,Sry/Sryip2,Ihh/Hhip,Shh/Hhip,Shh/Ptch1,Hhip/Dhh,Cav/Stoml3,Stoml3/Adcy3,Prkcb/Cish,Cish/Prkca,Cish/Prkcq,Dpysl5/Dpysl4,Zp3r/Zp3,Zp3/Aer,Aer/Zp2,Htatip/Pitx2,Pitx2/Pdlim1,Taf1c/Taf1a,Taf1c/Tbp,Taf1c/Taf1b,Taf1a/Tbp,Taf1a/Taf1b,Tbp/Taf1b,Akap2/Prkar2a,AY100450/Gdf8,Ehd1/Ehd3,Cacybp/S100a6,Gars/Serpine1,Pik3r3/Pik3ca,Wbp4/Snrpb,Ccl25/Ccr9,Rcor1/Rest,Jundm2/Atf2,Il22/Il22ra2}
  \draw[link] (\a) -- (\b);
% self loops
\foreach \a in {Zbtb33,Lnx1,Lnx2,Tcfap2d,Hdac1,Pacsin3,Pacsin2,Stat3,Gaf1,Figf,Tctex1,Cbr2,Treml1,Yes,Zfp259,Tef,Tnfsf11,Scgb3a2,Grifin,Acdc,Trim8,Trim6,Trim29,Trim3,Trim10,Trim32,Mcpt6,Adssl1,Lamc1,Coil,Tcfe2a,Bax,Bhlhb2,Dlgh2,Syt14l,Cbx5,Jundm2,Timeless,Emid1,Emid2,Dbphl1}
  \draw[link] (\a.28) .. controls +(22pt,12pt) and +(22pt,-12pt) .. (\a.-28);
\end{scope}
\end{tikzpicture}
\end{document}
